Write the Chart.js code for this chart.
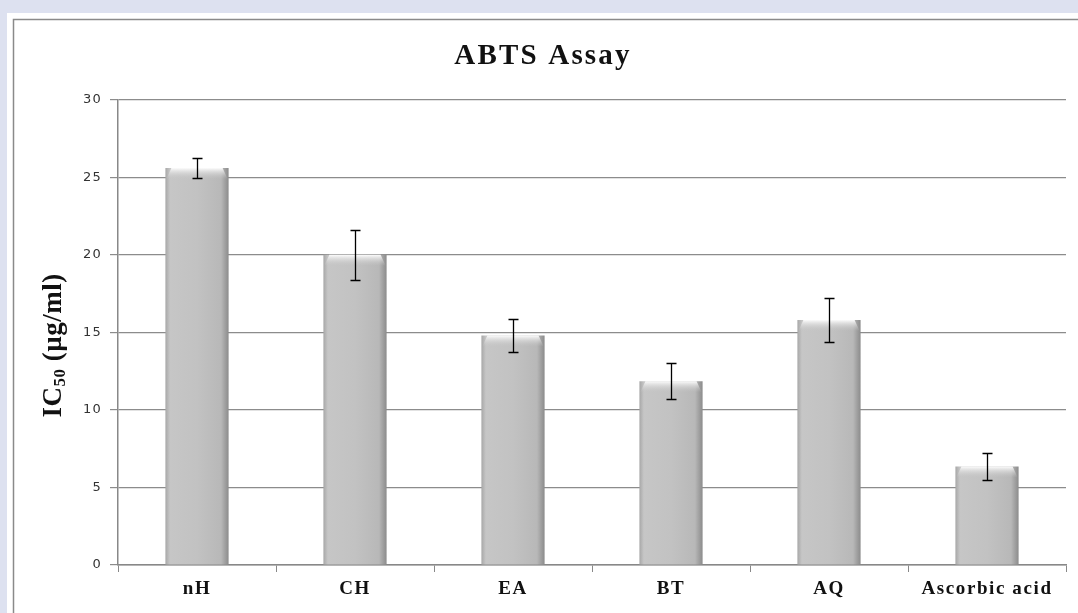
<!DOCTYPE html>
<html><head><meta charset="utf-8">
<script src="https://cdn.jsdelivr.net/npm/chart.js@4/dist/chart.umd.min.js"></script>
<style>html,body{margin:0;padding:0;background:#dde1f0;}#wrap{width:1078px;height:613px;position:relative;}</style>
</head><body><div id="wrap"><canvas id="c" width="1078" height="613"></canvas></div>
<script>
const categories = ["nH", "CH", "EA", "BT", "AQ", "Ascorbic acid"];
const ic50Values = [25.6, 20.0, 14.8, 11.85, 15.8, 6.35];
const ic50Errors = [0.65, 1.6, 1.05, 1.15, 1.45, 0.9];
const yTicks = [0, 5, 10, 15, 20, 25, 30];
const yTitleMain = 'IC';
const yTitleSub = '50';
const yTitleRest = ' (\u00b5g/ml)';

const SERIF = '"Liberation Serif", "DejaVu Serif", serif';

function withSpacing(obj, method, spacing) {
  if (!obj || obj['__sp_' + method]) return;
  const orig = obj[method];
  obj[method] = function (...args) {
    const ctx = this.ctx || (this.chart && this.chart.ctx);
    const prev = ctx.letterSpacing;
    ctx.letterSpacing = spacing;
    const r = orig.apply(this, args);
    ctx.letterSpacing = prev || '0px';
    return r;
  };
  obj['__sp_' + method] = true;
}

const bgPlugin = {
  id: 'bg',
  beforeDraw(chart) {
    const ctx = chart.ctx;
    withSpacing(chart.scales.x, 'drawLabels', '1.6px');
    withSpacing(chart.scales.y, 'drawLabels', '1.2px');
    if (chart.titleBlock) withSpacing(chart.titleBlock, 'draw', '2.2px');
    const ys = chart.scales.y;
    if (!ys.__customTitle) {
      ys.__customTitle = true;
      ys.drawTitle = function () {
        const c = this.ctx;
        const cy = (this.top + this.bottom) / 2 + 13;
        c.save();
        c.letterSpacing = '0.5px';
        c.fillStyle = '#111';
        c.textBaseline = 'alphabetic';
        c.textAlign = 'left';
        const fMain = 'bold 27px ' + SERIF;
        const fSub = 'bold 17px ' + SERIF;
        c.font = fMain; const w1 = c.measureText(yTitleMain).width;
        c.font = fSub; const w2 = c.measureText(yTitleSub).width;
        c.font = fMain; const w3 = c.measureText(yTitleRest).width;
        const total = w1 + w2 + w3;
        c.translate(61, cy);
        c.rotate(-Math.PI / 2);
        let x = -total / 2;
        c.font = fMain; c.fillText(yTitleMain, x, 0); x += w1;
        c.font = fSub; c.fillText(yTitleSub, x, 4); x += w2;
        c.font = fMain; c.fillText(yTitleRest, x, 0);
        c.restore();
      };
    }
    ctx.save();
    ctx.fillStyle = '#dde1f0';
    ctx.fillRect(0, 0, chart.width, chart.height);
    ctx.fillStyle = '#ffffff';
    ctx.fillRect(7, 13, chart.width - 7, chart.height - 13);
    ctx.strokeStyle = '#8a8a8a';
    ctx.lineWidth = 1.5;
    ctx.beginPath();
    ctx.moveTo(13.5, chart.height + 5);
    ctx.lineTo(13.5, 19.5);
    ctx.lineTo(chart.width + 5, 19.5);
    ctx.stroke();
    ctx.restore();
  }
};

const barStylePlugin = {
  id: 'barStyle',
  afterDatasetsDraw(chart) {
    const ctx = chart.ctx;
    const meta = chart.getDatasetMeta(0);
    const y = chart.scales.y;
    ctx.save();
    meta.data.forEach((bar, i) => {
      const w = bar.width;
      const left = bar.x - w / 2;
      const top = bar.y;
      const g = ctx.createLinearGradient(0, top, 0, top + 11);
      g.addColorStop(0, 'rgba(252,252,252,1)');
      g.addColorStop(1, 'rgba(200,200,200,0)');
      ctx.fillStyle = g;
      ctx.beginPath();
      ctx.moveTo(left + 1, top + 11);
      ctx.lineTo(left + 6, top);
      ctx.lineTo(left + w - 6, top);
      ctx.lineTo(left + w - 1, top + 11);
      ctx.closePath();
      ctx.fill();
      const v = ic50Values[i], e = ic50Errors[i];
      const yTop = Math.round(y.getPixelForValue(v + e)) + 0.5;
      const yBot = Math.round(y.getPixelForValue(v - e)) + 0.5;
      const x = Math.round(bar.x) + 0.5;
      ctx.strokeStyle = '#000';
      ctx.lineWidth = 1.3;
      ctx.beginPath();
      ctx.moveTo(x, yTop); ctx.lineTo(x, yBot);
      ctx.moveTo(x - 5, yTop); ctx.lineTo(x + 5, yTop);
      ctx.moveTo(x - 5, yBot); ctx.lineTo(x + 5, yBot);
      ctx.stroke();
    });
    ctx.restore();
  }
};

function barGradient(context) {
  const chart = context.chart;
  const xs = chart.scales && chart.scales.x;
  if (!xs || !chart.chartArea || context.dataIndex === undefined) return '#c0c0c0';
  const cx = xs.getPixelForValue(context.dataIndex);
  const w = 63;
  const left = cx - w / 2;
  if (!isFinite(left)) return '#c0c0c0';
  const g = chart.ctx.createLinearGradient(left, 0, left + w, 0);
  g.addColorStop(0, '#a8a8a8');
  g.addColorStop(0.07, '#c6c6c6');
  g.addColorStop(0.5, '#c2c2c2');
  g.addColorStop(0.88, '#b8b8b8');
  g.addColorStop(1, '#8c8c8c');
  return g;
}

new Chart(document.getElementById('c'), {
  type: 'bar',
  data: {
    labels: categories,
    datasets: [{
      data: ic50Values,
      backgroundColor: barGradient,
      borderWidth: 0,
      categoryPercentage: 1.0,
      barPercentage: 0.4
    }]
  },
  options: {
    responsive: false,
    animation: false,
    devicePixelRatio: 1,
    layout: { padding: { left: 20, right: 12, top: 0, bottom: 0 } },
    plugins: {
      legend: { display: false },
      tooltip: { enabled: false },
      title: {
        display: true,
        text: 'ABTS Assay',
        color: '#111',
        font: { family: SERIF, size: 29, weight: 'bold' },
        padding: { top: 39, bottom: 26 }
      }
    },
    scales: {
      x: {
        grid: { display: true, drawOnChartArea: false, offset: true, color: '#888', tickLength: 7, tickColor: '#888' },
        border: { display: true, color: '#888', width: 1.5 },
        ticks: {
          color: '#111',
          padding: 6,
          font: { family: SERIF, size: 19, weight: 'bold' }
        },
        afterFit(scale) { scale.height = 48; }
      },
      y: {
        min: 0, max: 30,
        afterBuildTicks(scale) { scale.ticks = yTicks.map(v => ({ value: v })); },
        grid: { color: '#8c8c8c', lineWidth: 1.2, tickLength: 8, tickColor: '#8c8c8c' },
        border: { display: true, color: '#888', width: 1.5 },
        ticks: {
          color: '#333',
          padding: 8,
          font: { family: '"DejaVu Sans", "Liberation Sans", sans-serif', size: 13 }
        },
        title: {
          display: true,
          text: yTitleMain + yTitleSub + yTitleRest,
          color: '#111',
          font: { family: SERIF, size: 24, weight: 'bold' },
          padding: { top: 0, bottom: 10 }
        },
        afterFit(scale) { scale.width = 98; }
      }
    }
  },
  plugins: [bgPlugin, barStylePlugin]
});
</script>
</body></html>
